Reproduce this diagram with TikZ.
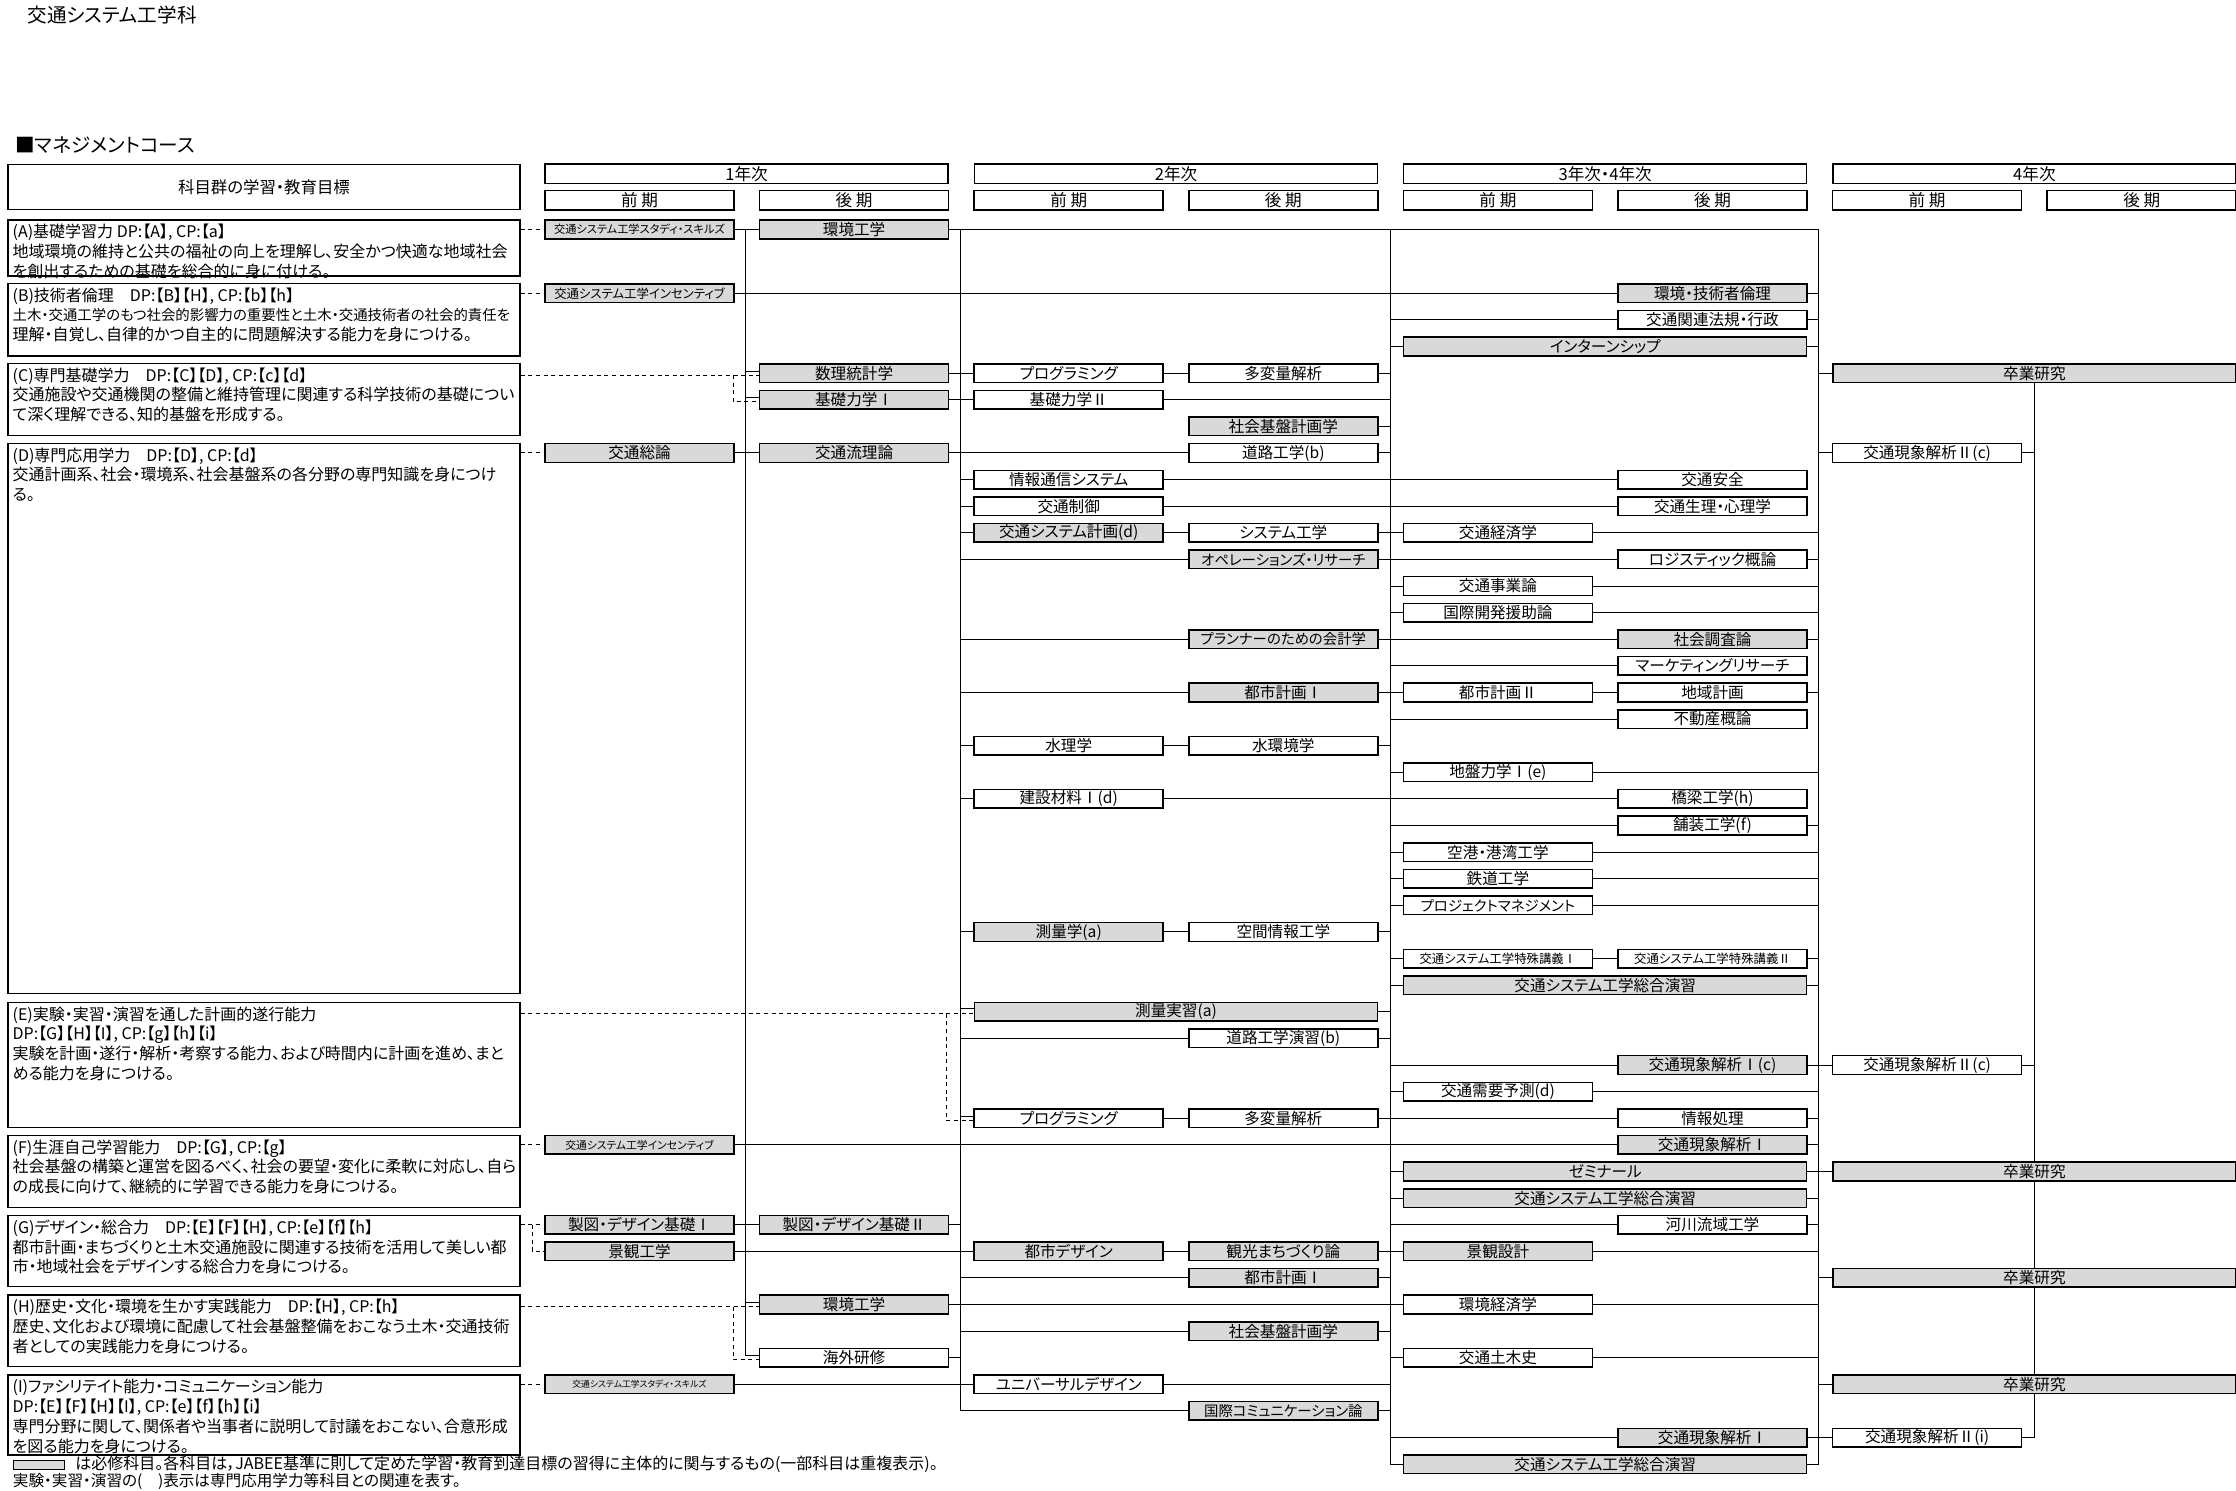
\documentclass[tikz,border=0pt]{standalone}
\usepackage{fontspec}
\setmainfont{Noto Sans CJK JP}[RawFeature=+palt]
\usetikzlibrary{backgrounds}

% column centres (one unit = one pixel of the chart)
\newcommand*\colI{639.5}
\newcommand*\colII{854.1}
\newcommand*\colIII{1068.7}
\newcommand*\colIV{1283.3}
\newcommand*\colV{1497.9}
\newcommand*\colVI{1712.5}
\newcommand*\colVII{1927.1}
\newcommand*\colVIII{2141.7}
% centres of a whole year
\newcommand*\yrI{746.5}
\newcommand*\yrII{1176}
\newcommand*\yrIII{1605.2}
\newcommand*\yrIV{2034.4}
\newcommand*\rowy[1]{293.3+26.61*(#1)}

\begin{document}
\begin{tikzpicture}[x=0.5pt,y=-0.5pt]
\colorlet{req fill}{black!15}
\tikzset{
     box/.style={draw, line width=0.75pt, inner sep=0pt},
     course/.style={box, fill=white, minimum width=94.5pt, minimum height=9.3pt, font=\fontsize{7.8}{8}\selectfont},
     required/.style={course, fill=req fill},
     wholeyear/.style={minimum width=201.5pt},
     narrowtext/.style={font=\fontsize{7.2}{8}\selectfont},
     smalltext/.style={font=\fontsize{6.2}{7}\selectfont},
     head/.style={box, minimum width=94.5pt, minimum height=9.65pt, font=\fontsize{8.3}{9}\selectfont},
     goal/.style={box, minimum width=256pt},
     goaltext/.style={anchor=north west, align=left, inner sep=0pt, font=\fontsize{8}{9.9}\selectfont},
     link/.style={line width=0.5pt},
     aim/.style={line width=0.5pt, dash pattern=on 2pt off 1.8pt}}

\useasboundingbox (0,0) rectangle (2236,1490);

% The titles
\node (title) [anchor=west, inner sep=0pt, font=\fontsize{9.8}{10}\selectfont] at (27,15) {交通システム工学科};
\node (coursename) [anchor=west, inner sep=0pt, font=\fontsize{9.8}{10}\selectfont] at (15,145) {■マネジメントコース};

% The header
\node (goalhead) [goal, minimum height=22.5pt, font=\fontsize{8.2}{9}\selectfont] at (264,186.8) {科目群の学習・教育目標};
\node (yr1) [head, wholeyear] at (\yrI,173.7) {1年次};
\node (yr2) [head, wholeyear] at (\yrII,173.7) {2年次};
\node (yr3) [head, wholeyear] at (\yrIII,173.7) {3年次・4年次};
\node (yr4) [head, wholeyear] at (\yrIV,173.7) {4年次};
\node (t1) [head] at (\colI,200.3) {前 期};
\node (t2) [head] at (\colII,200.3) {後 期};
\node (t3) [head] at (\colIII,200.3) {前 期};
\node (t4) [head] at (\colIV,200.3) {後 期};
\node (t5) [head] at (\colV,200.3) {前 期};
\node (t6) [head] at (\colVI,200.3) {後 期};
\node (t7) [head] at (\colVII,200.3) {前 期};
\node (t8) [head] at (\colVIII,200.3) {後 期};

% The goals
\node (objA) [goal, minimum height=28pt] at (264,248) {};
\node (objB) [goal, minimum height=36.35pt] at (264,319.65) {};
\node (objC) [goal, minimum height=36.2pt] at (264,399.5) {};
\node (objD) [goal, minimum height=275pt] at (264,718.3) {};
\node (objE) [goal, minimum height=62.5pt] at (264,1064.8) {};
\node (objF) [goal, minimum height=36pt] at (264,1171.3) {};
\node (objG) [goal, minimum height=35.7pt] at (264,1251) {};
\node (objH) [goal, minimum height=35.85pt] at (264,1330.85) {};
\node (objI) [goal, minimum height=40pt] at (264,1415) {};

\node (objAtext) [goaltext] at ([shift={(2.5pt,-2.3pt)}]objA.north west) {(A)基礎学習力 DP:【A】, CP:【a】\\地域環境の維持と公共の福祉の向上を理解し、安全かつ快適な地域社会\\を創出するための基礎を総合的に身に付ける。};
\node (objBtext) [goaltext] at ([shift={(2.5pt,-2.3pt)}]objB.north west) {(B)技術者倫理　DP:【B】【H】, CP:【b】【h】\\\fontsize{7.2}{9.9}\selectfont 土木・交通工学のもつ社会的影響力の重要性と土木・交通技術者の社会的責任を\\理解・自覚し、自律的かつ自主的に問題解決する能力を身につける。};
\node (objCtext) [goaltext] at ([shift={(2.5pt,-2.3pt)}]objC.north west) {(C)専門基礎学力　DP:【C】【D】, CP:【c】【d】\\交通施設や交通機関の整備と維持管理に関連する科学技術の基礎につい\\て深く理解できる、知的基盤を形成する。};
\node (objDtext) [goaltext] at ([shift={(2.5pt,-2.3pt)}]objD.north west) {(D)専門応用学力　DP:【D】, CP:【d】\\交通計画系、社会・環境系、社会基盤系の各分野の専門知識を身につけ\\る。};
\node (objEtext) [goaltext] at ([shift={(2.5pt,-2.3pt)}]objE.north west) {(E)実験・実習・演習を通した計画的遂行能力\\DP:【G】【H】【I】, CP:【g】【h】【i】\\実験を計画・遂行・解析・考察する能力、および時間内に計画を進め、まと\\める能力を身につける。};
\node (objFtext) [goaltext] at ([shift={(2.5pt,-2.3pt)}]objF.north west) {(F)生涯自己学習能力　DP:【G】, CP:【g】\\社会基盤の構築と運営を図るべく、社会の要望・変化に柔軟に対応し、自ら\\の成長に向けて、継続的に学習できる能力を身につける。};
\node (objGtext) [goaltext] at ([shift={(2.5pt,-2.3pt)}]objG.north west) {(G)デザイン・総合力　DP:【E】【F】【H】, CP:【e】【f】【h】\\都市計画・まちづくりと土木交通施設に関連する技術を活用して美しい都\\市・地域社会をデザインする総合力を身につける。};
\node (objHtext) [goaltext] at ([shift={(2.5pt,-2.3pt)}]objH.north west) {(H)歴史・文化・環境を生かす実践能力　DP:【H】, CP:【h】\\歴史、文化および環境に配慮して社会基盤整備をおこなう土木・交通技術\\者としての実践能力を身につける。};
\node (objItext) [goaltext] at ([shift={(2.5pt,-2.3pt)}]objI.north west) {(I)ファシリテイト能力・コミュニケーション能力\\DP:【E】【F】【H】【I】, CP:【e】【f】【h】【i】\\専門分野に関して、関係者や当事者に説明して討議をおこない、合意形成\\を図る能力を身につける。};

% The legend
\node (legendbox) [box, line width=0.5pt, fill=req fill, anchor=north west, minimum width=25.5pt, minimum height=4.3pt] at (12.5,1460) {};
\node (legendtext) [anchor=west, inner sep=0pt, font=\fontsize{8}{8}\selectfont] at (75,1464.3) {は必修科目。各科目は，JABEE基準に則して定めた学習・教育到達目標の習得に主体的に関与するもの(一部科目は重複表示)。};
\node (legendnote) [anchor=west, inner sep=0pt, font=\fontsize{7.8}{8}\selectfont] at (12.5,1481.7) {実験・実習・演習の(　)表示は専門応用学力等科目との関連を表す。};

% 1st year
\node (study1) [required, font=\fontsize{5.6}{6}\selectfont] at (\colI,229.5) {交通システム工学スタディ・スキルズ};
\node (incent1) [required, smalltext] at (\colI,{\rowy{0}}) {交通システム工学インセンティブ};
\node (sou) [required] at (\colI,{\rowy{6}}) {交通総論};
\node (incent2) [required, font=\fontsize{5.4}{6}\selectfont] at (\colI,{\rowy{32}}) {交通システム工学インセンティブ};
\node (seizu1) [required] at (\colI,{\rowy{35}}) {製図・デザイン基礎Ⅰ};
\node (keikan) [required] at (\colI,{\rowy{36}}) {景観工学};
\node (study2) [required, font=\fontsize{4.4}{5}\selectfont] at (\colI,{\rowy{41}}) {交通システム工学スタディ・スキルズ};

\node (kankyo1) [required] at (\colII,229.5) {環境工学};
\node (suri) [required] at (\colII,{\rowy{3}}) {数理統計学};
\node (kiso1) [required] at (\colII,{\rowy{4}}) {基礎力学Ⅰ};
\node (ryuri) [required] at (\colII,{\rowy{6}}) {交通流理論};
\node (seizu2) [required] at (\colII,{\rowy{35}}) {製図・デザイン基礎Ⅱ};
\node (kankyo2) [required] at (\colII,{\rowy{38}}) {環境工学};
\node (kaigai) [course] at (\colII,{\rowy{40}}) {海外研修};

% 2nd year
\node (prog1) [course] at (\colIII,{\rowy{3}}) {プログラミング};
\node (kiso2) [course] at (\colIII,{\rowy{4}}) {基礎力学Ⅱ};
\node (jouhou) [course] at (\colIII,{\rowy{7}}) {情報通信システム};
\node (seigyo) [course] at (\colIII,{\rowy{8}}) {交通制御};
\node (keikaku) [required] at (\colIII,{\rowy{9}}) {交通システム計画(d)};
\node (suiri) [course] at (\colIII,{\rowy{17}}) {水理学};
\node (zairyo) [course] at (\colIII,{\rowy{19}}) {建設材料Ⅰ(d)};
\node (sokuryo) [required] at (\colIII,{\rowy{24}}) {測量学(a)};
\node (jisshu) [required, wholeyear] at (\yrII,{\rowy{27}}) {測量実習(a)};
\node (prog2) [course] at (\colIII,{\rowy{31}}) {プログラミング};
\node (design) [required] at (\colIII,{\rowy{36}}) {都市デザイン};
\node (universal) [course] at (\colIII,{\rowy{41}}) {ユニバーサルデザイン};

\node (tahen1) [course] at (\colIV,{\rowy{3}}) {多変量解析};
\node (shakai1) [required] at (\colIV,{\rowy{5}}) {社会基盤計画学};
\node (douro) [course] at (\colIV,{\rowy{6}}) {道路工学(b)};
\node (system) [course] at (\colIV,{\rowy{9}}) {システム工学};
\node (opres) [required, narrowtext] at (\colIV,{\rowy{10}}) {オペレーションズ・リサーチ};
\node (kaikei) [required, narrowtext] at (\colIV,{\rowy{13}}) {プランナーのための会計学};
\node (toshi1) [required] at (\colIV,{\rowy{15}}) {都市計画Ⅰ};
\node (suikan) [course] at (\colIV,{\rowy{17}}) {水環境学};
\node (kukan) [course] at (\colIV,{\rowy{24}}) {空間情報工学};
\node (douroen) [course] at (\colIV,{\rowy{28}}) {道路工学演習(b)};
\node (tahen2) [course] at (\colIV,{\rowy{31}}) {多変量解析};
\node (kanko) [required] at (\colIV,{\rowy{36}}) {観光まちづくり論};
\node (toshi1b) [required] at (\colIV,{\rowy{37}}) {都市計画Ⅰ};
\node (shakai2) [required] at (\colIV,{\rowy{39}}) {社会基盤計画学};
\node (kokusai) [required, narrowtext] at (\colIV,{\rowy{42}}) {国際コミュニケーション論};

% 3rd and 4th year
\node (intern) [required, wholeyear] at (\yrIII,{\rowy{2}}) {インターンシップ};
\node (keizai) [course] at (\colV,{\rowy{9}}) {交通経済学};
\node (jigyo) [course] at (\colV,{\rowy{11}}) {交通事業論};
\node (enjo) [course] at (\colV,{\rowy{12}}) {国際開発援助論};
\node (toshi2) [course] at (\colV,{\rowy{15}}) {都市計画Ⅱ};
\node (jiban) [course] at (\colV,{\rowy{18}}) {地盤力学Ⅰ(e)};
\node (kuko) [course] at (\colV,{\rowy{21}}) {空港・港湾工学};
\node (tetsudo) [course] at (\colV,{\rowy{22}}) {鉄道工学};
\node (pm) [course, narrowtext] at (\colV,{\rowy{23}}) {プロジェクトマネジメント};
\node (tokushu1) [course, smalltext] at (\colV,{\rowy{25}}) {交通システム工学特殊講義Ⅰ};
\node (sogo1) [required, wholeyear] at (\yrIII,{\rowy{26}}) {交通システム工学総合演習};
\node (juyo) [course] at (\colV,{\rowy{30}}) {交通需要予測(d)};
\node (zemi) [required, wholeyear] at (\yrIII,{\rowy{33}}) {ゼミナール};
\node (sogo2) [required, wholeyear] at (\yrIII,{\rowy{34}}) {交通システム工学総合演習};
\node (sekkei) [required] at (\colV,{\rowy{36}}) {景観設計};
\node (kankeizai) [course] at (\colV,{\rowy{38}}) {環境経済学};
\node (doboku) [course] at (\colV,{\rowy{40}}) {交通土木史};
\node (sogo3) [required, wholeyear] at (\yrIII,{\rowy{44}}) {交通システム工学総合演習};

\node (rinri) [required] at (\colVI,{\rowy{0}}) {環境・技術者倫理};
\node (houki) [course] at (\colVI,{\rowy{1}}) {交通関連法規・行政};
\node (anzen) [course] at (\colVI,{\rowy{7}}) {交通安全};
\node (shinri) [course] at (\colVI,{\rowy{8}}) {交通生理・心理学};
\node (logi) [course] at (\colVI,{\rowy{10}}) {ロジスティック概論};
\node (chosa) [required] at (\colVI,{\rowy{13}}) {社会調査論};
\node (market) [course] at (\colVI,{\rowy{14}}) {マーケティングリサーチ};
\node (chiiki) [course] at (\colVI,{\rowy{15}}) {地域計画};
\node (fudosan) [course] at (\colVI,{\rowy{16}}) {不動産概論};
\node (kyoryo) [course] at (\colVI,{\rowy{19}}) {橋梁工学(h)};
\node (hoso) [course] at (\colVI,{\rowy{20}}) {舗装工学(f)};
\node (tokushu2) [course, smalltext] at (\colVI,{\rowy{25}}) {交通システム工学特殊講義Ⅱ};
\node (gensho1c) [required] at (\colVI,{\rowy{29}}) {交通現象解析Ⅰ(c)};
\node (shori) [course] at (\colVI,{\rowy{31}}) {情報処理};
\node (gensho1a) [required] at (\colVI,{\rowy{32}}) {交通現象解析Ⅰ};
\node (kasen) [course] at (\colVI,{\rowy{35}}) {河川流域工学};
\node (gensho1b) [required] at (\colVI,{\rowy{43}}) {交通現象解析Ⅰ};

% 4th year
\node (sotsu1) [required, wholeyear] at (\yrIV,{\rowy{3}}) {卒業研究};
\node (gensho2c) [course] at (\colVII,{\rowy{6}}) {交通現象解析Ⅱ(c)};
\node (gensho2cb) [course] at (\colVII,{\rowy{29}}) {交通現象解析Ⅱ(c)};
\node (sotsu2) [required, wholeyear] at (\yrIV,{\rowy{33}}) {卒業研究};
\node (sotsu3) [required, wholeyear] at (\yrIV,{\rowy{37}}) {卒業研究};
\node (sotsu4) [required, wholeyear] at (\yrIV,{\rowy{41}}) {卒業研究};
\node (gensho2i) [course] at (\colVII,{\rowy{43}}) {交通現象解析Ⅱ(i)};

% The bus lines and the branch points of the dashed lines
\coordinate (xv1) at (745.5,0);
\coordinate (xv2) at (960.5,0);
\coordinate (xv3) at (1390,0);
\coordinate (xv4) at (1818.5,0);
\coordinate (xg) at (532,0);
\coordinate (xch) at (733,0);
\coordinate (xe) at (946.5,0);
\coordinate (surisol) at ([yshift=1pt]suri.west);
\coordinate (suridash) at ([yshift=-1pt]suri.west);
\coordinate (kiso1sol) at ([yshift=1pt]kiso1.west);
\coordinate (kiso1dash) at ([yshift=-1pt]kiso1.west);
\coordinate (jisshusol) at ([yshift=1.5pt]jisshu.west);
\coordinate (jisshudash) at ([yshift=-1pt]jisshu.west);
\coordinate (prog2sol) at ([yshift=1pt]prog2.west);
\coordinate (prog2dash) at ([yshift=-1pt]prog2.west);
\coordinate (kankyo2sol) at ([yshift=1pt]kankyo2.west);
\coordinate (kankyo2dash) at ([yshift=-1pt]kankyo2.west);
\coordinate (kaigaisol) at ([yshift=1pt]kaigai.west);
\coordinate (kaigaidash) at ([yshift=-1pt]kaigai.west);

\begin{scope}[on background layer]
% buses
\draw [link] (xv1 |- study1) -- (xv1 |- kaigaisol) -- (kaigaisol);
\draw [link] (xv2 |- kankyo1) -- (xv2 |- kokusai) -- (kokusai);
\draw [link] (xv3 |- kankyo1) -- (xv3 |- sogo3) -- (sogo3);
\draw [link] (kankyo1) -- (xv4 |- kankyo1) -- (xv4 |- sogo3) -- (sogo3);
\draw [link] (sotsu1) -- (sotsu1 |- gensho2i) -- (gensho2i);

% first year rows
\draw [link] (study1) -- (kankyo1);
\draw [link] (incent1) -- (rinri);
\draw [link] (rinri) -- (xv4 |- rinri);
\draw [link] (xv3 |- houki) -- (houki);
\draw [link] (houki) -- (xv4 |- houki);
\draw [link] (xv3 |- intern) -- (intern);
\draw [link] (intern) -- (xv4 |- intern);
\draw [link] (xv1 |- surisol) -- (surisol);
\draw [link] (suri) -- (prog1);
\draw [link] (prog1) -- (tahen1);
\draw [link] (tahen1) -- (xv3 |- tahen1);
\draw [link] (xv4 |- sotsu1) -- (sotsu1);
\draw [link] (xv1 |- kiso1sol) -- (kiso1sol);
\draw [link] (kiso1) -- (kiso2);
\draw [link] (kiso2) -- (xv3 |- kiso2);
\draw [link] (shakai1) -- (xv3 |- shakai1);
\draw [link] (sou) -- (ryuri);
\draw [link] (ryuri) -- (douro);
\draw [link] (douro) -- (xv3 |- douro);
\draw [link] (xv4 |- gensho2c) -- (gensho2c);
\draw [link] (gensho2c) -- (gensho2c -| sotsu1);

% second year rows
\draw [link] (xv2 |- jouhou) -- (jouhou);
\draw [link] (jouhou) -- (anzen);
\draw [link] (xv2 |- seigyo) -- (seigyo);
\draw [link] (seigyo) -- (shinri);
\draw [link] (xv2 |- keikaku) -- (keikaku);
\draw [link] (keikaku) -- (system);
\draw [link] (system) -- (keizai);
\draw [link] (keizai) -- (xv4 |- keizai);
\draw [link] (xv2 |- opres) -- (opres);
\draw [link] (opres) -- (logi);
\draw [link] (logi) -- (xv4 |- logi);
\draw [link] (xv3 |- jigyo) -- (jigyo);
\draw [link] (jigyo) -- (xv4 |- jigyo);
\draw [link] (xv3 |- enjo) -- (enjo);
\draw [link] (enjo) -- (xv4 |- enjo);
\draw [link] (xv2 |- kaikei) -- (kaikei);
\draw [link] (kaikei) -- (chosa);
\draw [link] (chosa) -- (xv4 |- chosa);
\draw [link] (xv3 |- market) -- (market);
\draw [link] (xv2 |- toshi1) -- (toshi1);
\draw [link] (toshi1) -- (toshi2);
\draw [link] (toshi2) -- (chiiki);
\draw [link] (chiiki) -- (xv4 |- chiiki);
\draw [link] (xv3 |- fudosan) -- (fudosan);
\draw [link] (xv2 |- suiri) -- (suiri);
\draw [link] (suiri) -- (suikan);
\draw [link] (suikan) -- (xv3 |- suikan);
\draw [link] (xv3 |- jiban) -- (jiban);
\draw [link] (jiban) -- (xv4 |- jiban);
\draw [link] (xv2 |- zairyo) -- (zairyo);
\draw [link] (zairyo) -- (kyoryo);
\draw [link] (xv3 |- hoso) -- (hoso);
\draw [link] (hoso) -- (xv4 |- hoso);
\draw [link] (xv3 |- kuko) -- (kuko);
\draw [link] (kuko) -- (xv4 |- kuko);
\draw [link] (xv3 |- tetsudo) -- (tetsudo);
\draw [link] (tetsudo) -- (xv4 |- tetsudo);
\draw [link] (xv3 |- pm) -- (pm);
\draw [link] (pm) -- (xv4 |- pm);
\draw [link] (xv2 |- sokuryo) -- (sokuryo);
\draw [link] (sokuryo) -- (kukan);
\draw [link] (kukan) -- (xv3 |- kukan);
\draw [link] (xv3 |- tokushu1) -- (tokushu1);
\draw [link] (tokushu1) -- (tokushu2);
\draw [link] (tokushu2) -- (xv4 |- tokushu2);
\draw [link] (xv3 |- sogo1) -- (sogo1);
\draw [link] (sogo1) -- (xv4 |- sogo1);

% exercise rows
\draw [link] (xv2 |- jisshusol) -- (jisshusol);
\draw [link] (jisshu) -- (xv3 |- jisshu);
\draw [link] (xv2 |- douroen) -- (douroen);
\draw [link] (douroen) -- (xv3 |- douroen);
\draw [link] (xv3 |- gensho1c) -- (gensho1c);
\draw [link] (gensho1c) -- (gensho2cb);
\draw [link] (gensho2cb) -- (gensho2cb -| sotsu1);
\draw [link] (xv3 |- juyo) -- (juyo);
\draw [link] (juyo) -- (xv4 |- juyo);
\draw [link] (xv2 |- prog2sol) -- (prog2sol);
\draw [link] (prog2) -- (tahen2);
\draw [link] (tahen2) -- (shori);
\draw [link] (shori) -- (xv4 |- shori);
\draw [link] (incent2) -- (gensho1a);
\draw [link] (gensho1a) -- (xv4 |- gensho1a);
\draw [link] (xv3 |- zemi) -- (zemi);
\draw [link] (zemi) -- (sotsu2);
\draw [link] (xv3 |- sogo2) -- (sogo2);
\draw [link] (sogo2) -- (xv4 |- sogo2);
\draw [link] (seizu1) -- (seizu2);
\draw [link] (seizu2) -- (xv2 |- seizu2);
\draw [link] (xv3 |- kasen) -- (kasen);
\draw [link] (kasen) -- (xv4 |- kasen);
\draw [link] (keikan) -- (design);
\draw [link] (design) -- (kanko);
\draw [link] (kanko) -- (sekkei);
\draw [link] (sekkei) -- (xv4 |- sekkei);
\draw [link] (xv2 |- toshi1b) -- (toshi1b);
\draw [link] (toshi1b) -- (xv3 |- toshi1b);
\draw [link] (xv4 |- sotsu3) -- (sotsu3);
\draw [link] (xv1 |- kankyo2sol) -- (kankyo2sol);
\draw [link] (kankyo2) -- (kankeizai);
\draw [link] (kankeizai) -- (xv4 |- kankeizai);
\draw [link] (xv2 |- shakai2) -- (shakai2);
\draw [link] (shakai2) -- (xv3 |- shakai2);
\draw [link] (kaigai) -- (xv2 |- kaigai);
\draw [link] (xv3 |- doboku) -- (doboku);
\draw [link] (doboku) -- (xv4 |- doboku);
\draw [link] (study2) -- (universal);
\draw [link] (universal) -- (xv3 |- universal);
\draw [link] (xv4 |- sotsu4) -- (sotsu4);
\draw [link] (kokusai) -- (xv3 |- kokusai);
\draw [link] (xv3 |- gensho1b) -- (gensho1b);
\draw [link] (gensho1b) -- (gensho2i);

% the goals to their courses
\draw [aim] (objA.east |- study1) -- (study1);
\draw [aim] (objB.east |- incent1) -- (incent1);
\draw [aim] (objC.east |- suridash) -- (suridash);
\draw [aim] (xch |- suridash) -- (xch |- kiso1dash) -- (kiso1dash);
\draw [aim] (objD.east |- sou) -- (sou);
\draw [aim] (objE.east |- jisshudash) -- (jisshudash);
\draw [aim] (xe |- jisshudash) -- (xe |- prog2dash) -- (prog2dash);
\draw [aim] (objF.east |- incent2) -- (incent2);
\draw [aim] (objG.east |- seizu1) -- (seizu1);
\draw [aim] (xg |- seizu1) -- (xg |- keikan) -- (keikan);
\draw [aim] (objH.east |- kankyo2dash) -- (kankyo2dash);
\draw [aim] (xch |- kankyo2dash) -- (xch |- kaigaidash) -- (kaigaidash);
\draw [aim] (objI.east |- study2) -- (study2);
\end{scope}
\end{tikzpicture}
\end{document}
